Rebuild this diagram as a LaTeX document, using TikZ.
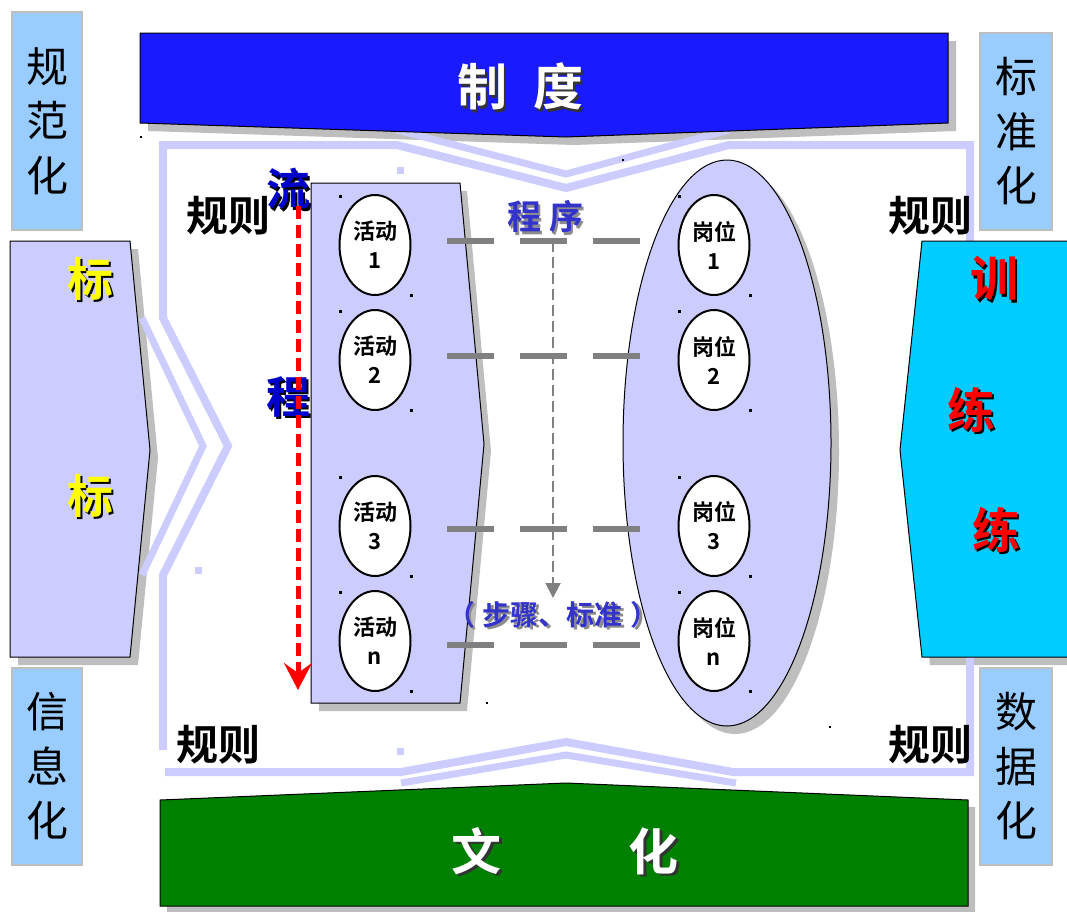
\documentclass[tikz,border=0pt]{standalone}
\usepackage{fontspec}
\newfontfamily\cjk{Noto Sans CJK SC}[BoldFont={Noto Sans CJK SC Bold}]
\usetikzlibrary{arrows.meta,shapes.geometric}
\definecolor{lav}{RGB}{204,204,255}
\definecolor{sideblue}{RGB}{153,204,255}
\definecolor{topblue}{RGB}{26,26,255}
\definecolor{cult}{RGB}{0,128,0}
\definecolor{cyanbox}{RGB}{0,204,255}
\definecolor{shade}{RGB}{190,190,190}
\definecolor{framec}{RGB}{204,204,255}
\definecolor{txtblue}{RGB}{51,51,204}
\definecolor{flowblue}{RGB}{0,0,204}
\definecolor{dashgray}{RGB}{128,128,128}
\definecolor{yel}{RGB}{255,255,0}
\newcommand\fsz[2]{\fontsize{#1}{#2}\selectfont}
% text with a drop shadow, in one box: shadow colour, text
\newcommand\shd[2]{\leavevmode\rlap{\kern2.5pt\raisebox{-2.5pt}{\textcolor{#1}{#2}}}#2}
\begin{document}
\begin{tikzpicture}[x=1pt,y=-1pt,every node/.style={inner sep=0pt,outer sep=0pt}]
\tikzset{
  sidebox/.style={fill=sideblue,draw=shade,line width=1.5pt,align=center,font=\cjk\fsz{42}{54.5}},
  bigtxt/.style={font=\cjk\bfseries\fsz{50}{50},text=white},
  rule/.style={font=\cjk\bfseries\fsz{42}{42},text=black},
  flowtxt/.style={font=\cjk\bfseries\fsz{44}{44},text=flowblue},
  goaltxt/.style={font=\cjk\bfseries\fsz{46}{46},text=yel},
  traintxt/.style={font=\cjk\bfseries\fsz{48}{48},text=red},
  proc/.style={font=\cjk\bfseries\fsz{34}{34},text=txtblue},
  steps/.style={font=\cjk\bfseries\fsz{28}{28},text=txtblue},
  actv/.style={ellipse,draw=black,line width=2pt,fill=white,minimum width=71pt,minimum height=100pt,align=center,font=\cjk\bfseries\fsz{22}{29}},
  shadowc/.style={fill=shade},
  framel/.style={draw=framec,line width=8pt},
  framei/.style={draw=framec,line width=7pt},
  hdash/.style={draw=dashgray,line width=6pt,dash pattern=on 47pt off 26pt},
  dot/.style={fill=black}
}
\useasboundingbox (0,0) rectangle (1067,911);
\fill[white] (0,0) rectangle (1067,911);

% side boxes
\node[sidebox,minimum width=70pt,minimum height=218pt] (gfh) at (47,121) {规\\范\\化};
\node[sidebox,minimum width=72pt,minimum height=197pt] (bzh) at (1016,131.5) {标\\准\\化};
\node[sidebox,minimum width=70pt,minimum height=197pt] (xxh) at (47,766.5) {信\\息\\化};
\node[sidebox,minimum width=72pt,minimum height=197pt] (sjh) at (1016,766.5) {数\\据\\化};

% shadows
\fill[shadowc] (148,41) -- (956,41) -- (956,131) -- (574,145) -- (148,131) -- cycle;
\fill[shadowc] (167,807) -- (574,790) -- (975,807) -- (975,913) -- (167,913) -- cycle;
\fill[shadowc] (18,249) -- (138,249) -- (158,458) -- (138,665) -- (18,665) -- cycle;
\fill[shadowc] (930,249) -- (1075,249) -- (1075,665) -- (930,665) -- (908,458) -- cycle;
\fill[shadowc] (319,191) -- (467,191) -- (491,451) -- (467,711) -- (319,711) -- cycle;
\node[ellipse,shadowc,minimum width=208pt,minimum height=566pt] (poolsh) at (735,451) {};

% frame lines
\draw[framel] (163,750) -- (163,575) -- (228,446) -- (163,318) -- (163,145) -- (397,145) -- (566,188) -- (729,145) -- (970,145) -- (970,776);
\draw[framel] (165,772) -- (401,772) -- (566,742) -- (733,772) -- (968,772);
\draw[framei] (142,318) -- (203,446) -- (142,575);
\draw[framei] (397,130) -- (566,174) -- (729,130);
\draw[framei] (401,783) -- (566,755) -- (736,783);
\fill[framec] (397,167) rectangle (404,174);
\fill[framec] (195,567) rectangle (202,574);
\fill[framec] (397,748) rectangle (404,755);

% main shapes
\draw[fill=topblue,draw=black,line width=1pt] (140,33) -- (948,33) -- (948,123) -- (566,137) -- (140,123) -- cycle;
\draw[fill=cult,draw=black,line width=1pt] (160,800) -- (566,783) -- (968,800) -- (968,906) -- (160,906) -- cycle;
\draw[fill=lav,draw=black,line width=1pt] (10,241) -- (130,241) -- (150,450) -- (130,657) -- (10,657) -- cycle;
\draw[fill=cyanbox,draw=black,line width=1pt] (922,241) -- (1068,241) -- (1068,657) -- (922,657) -- (900,450) -- cycle;
\draw[fill=lav,draw=black,line width=1pt] (311,183) -- (460,183) -- (484,444) -- (460,703) -- (311,703) -- cycle;
\node[ellipse,draw=black,line width=1pt,fill=lav,minimum width=208pt,minimum height=566pt] (pool) at (727,443) {};

% horizontal gray dashes
\foreach \yy/\nm in {241/r1,356/r2,529/r3,645/r4}{
  \coordinate (\nm l) at (447,\yy);
  \coordinate (\nm r) at (643,\yy);
  \draw[hdash] (\nm l) -- (\nm r);
}

% vertical gray dashed arrow
\coordinate (ps) at (553,241);
\coordinate (pe) at (553,598);
\draw[dashgray,line width=2pt,dash pattern=on 11pt off 5pt,-{Triangle[length=15pt,width=15pt]}] (ps) -- (pe);

% activity and post ellipses
\foreach \yy/\lab/\nm in {245/1/1,360/2/2,526/3/3,641/n/4}{
  \node[actv] (a\nm) at (375,\yy) {活动\\\lab};
  \node[actv] (p\nm) at (714,\yy) {岗位\\\lab};
  \fill[dot] (339,\yy-50) rectangle +(2.5,2.5);
  \fill[dot] (410,\yy+49) rectangle +(2.5,2.5);
  \fill[dot] (678,\yy-50) rectangle +(2.5,2.5);
  \fill[dot] (749,\yy+49) rectangle +(2.5,2.5);
}
\fill[dot] (140,136) rectangle +(2,2);
\fill[dot] (622,159) rectangle +(2,2);
\fill[dot] (486,702) rectangle +(2,2);
\fill[dot] (829,726) rectangle +(2,2);

% texts
\node[bigtxt] (zd) at (520,88) {\shd{black!80}{制}\hspace{26pt}\shd{black!80}{度}};
\node[bigtxt] (wh) at (565,852) {\shd{black!80}{文}\hspace{127pt}\shd{black!80}{化}};
\node[rule] (gz1) at (228,216) {规则};
\node[rule] (gz2) at (930,216) {规则};
\node[rule] (gz3) at (218,745) {规则};
\node[rule] (gz4) at (930,745) {规则};
\node[flowtxt] (liu) at (288,190) {\shd{black}{流}};
\node[flowtxt] (cheng) at (288,398) {\shd{black}{程}};
\node[goaltxt] (mb1) at (90,280) {\shd{black}{标}};
\node[goaltxt] (mb2) at (90,497) {\shd{black}{标}};
\node[traintxt] (xl1) at (994,280) {\shd{black}{训}};
\node[traintxt] (xl2) at (971,411) {\shd{black}{练}};
\node[traintxt] (xl3) at (996,531) {\shd{black}{练}};
\node[proc] (cx) at (545,218) {\shd{black!45}{程}\hspace{8pt}\shd{black!45}{序}};
\node[steps] (bz) at (553,616) {\shd{black!45}{（\hspace{8pt}步骤、标准\hspace{8pt}）}};

% red dashed flow arrow
\coordinate (fs) at (298,206);
\coordinate (fe) at (298,690);
\draw[red,line width=5pt,dash pattern=on 13pt off 6pt,-{Stealth[length=27pt,width=28pt,inset=10pt]}] (fs) -- (fe);
\end{tikzpicture}
\end{document}
